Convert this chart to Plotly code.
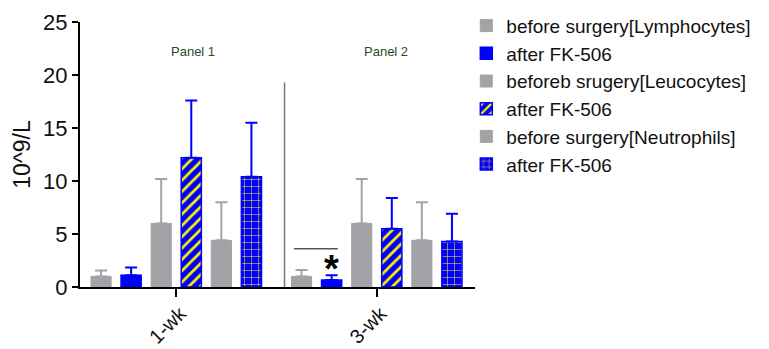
import plotly.graph_objects as go

groups = ["1-wk", "3-wk"]
series_names = ["before surgery[Lymphocytes]", "after FK-506", "beforeb srugery[Leucocytes]",
                "after FK-506", "before surgery[Neutrophils]", "after FK-506"]
lym_before = [1.0, 1.0]
lym_before_sd = [0.55, 0.6]
lym_after = [1.1, 0.65]
lym_after_sd = [0.75, 0.45]
leu_before = [6.0, 6.0]
leu_before_sd = [4.2, 4.2]
leu_after = [12.2, 5.5]
leu_after_sd = [5.4, 2.9]
neu_before = [4.4, 4.4]
neu_before_sd = [3.6, 3.6]
neu_after = [10.4, 4.3]
neu_after_sd = [5.1, 2.6]
y_ticks = [0, 5, 10, 15, 20, 25]

GRAY = "#a3a3a7"
BLUE = "#0000ff"
YEL = "#ffee00"

values = [lym_before, lym_after, leu_before, leu_after, neu_before, neu_after]
sds = [lym_before_sd, lym_after_sd, leu_before_sd, leu_after_sd, neu_before_sd, neu_after_sd]
styles = [
    dict(color=GRAY, line=dict(color=GRAY, width=1)),
    dict(color=BLUE, line=dict(color=BLUE, width=1.5)),
    dict(color=GRAY, line=dict(color=GRAY, width=1)),
    dict(color=BLUE, line=dict(color=BLUE, width=1.5),
         pattern=dict(shape="/", fgcolor=YEL, bgcolor=BLUE, size=8, solidity=0.35, fillmode="replace")),
    dict(color=GRAY, line=dict(color=GRAY, width=1)),
    dict(color=BLUE, line=dict(color=BLUE, width=1.5),
         pattern=dict(shape="+", fgcolor=YEL, bgcolor=BLUE, size=7, solidity=0.15, fillmode="replace")),
]
err_colors = [GRAY, BLUE, GRAY, BLUE, GRAY, BLUE]

fig = go.Figure()
for i in range(6):
    fig.add_trace(go.Bar(
        x=groups, y=values[i], name=series_names[i], marker=styles[i],
        legendgroup=f"g{i}",
        error_y=dict(type="data", array=sds[i], arrayminus=[0, 0], symmetric=False,
                     color=err_colors[i], thickness=2, width=6),
    ))

font_fam = "Liberation Sans, Arial, sans-serif"
fig.update_layout(
    width=769, height=349,
    margin=dict(l=72, r=302, t=14, b=70, autoexpand=False),
    plot_bgcolor="white", paper_bgcolor="white",
    barmode="group", bargap=0.1, bargroupgap=0.33,
    font=dict(family=font_fam, color="#111111"),
    legend=dict(x=0.978, xanchor="left", y=1.0575, yanchor="top", font=dict(size=19),
                tracegroupgap=0, itemwidth=30, maxheight=1.0),
    xaxis=dict(range=[-0.48, 1.49], showline=True, linecolor="black", linewidth=2,
               ticks="outside", ticklen=8, tickwidth=2, tickcolor="black",
               tickangle=-45, tickfont=dict(size=20), showgrid=False, automargin=False,
               ticklabelstandoff=-3, ticklabelshift=4),
    yaxis=dict(range=[0, 25], tickvals=y_ticks, showline=True, linecolor="black", linewidth=2,
               ticks="outside", ticklen=6, tickwidth=2, tickcolor="black",
               tickfont=dict(size=22), showgrid=False, zeroline=False, automargin=False,
               title=dict(text="10^9/L", font=dict(size=23), standoff=6)),
)

fig.add_shape(type="line", xref="x", yref="y", x0=0.54, x1=0.54, y0=0, y1=19.3,
              line=dict(color="#777777", width=1.5))
fig.add_shape(type="line", xref="x", yref="y", x0=0.587, x1=0.806, y0=3.6, y1=3.6,
              line=dict(color="black", width=1))
fig.add_annotation(x=0.776, y=2.1, xref="x", yref="y", text="<b>*</b>", showarrow=False,
                   font=dict(size=38, color="black"), yshift=-4)
fig.add_annotation(x=0.085, y=22.2, xref="x", yref="y", text="Panel 1", showarrow=False,
                   font=dict(size=13, color="#1f4d1f"))
fig.add_annotation(x=1.045, y=22.2, xref="x", yref="y", text="Panel 2", showarrow=False,
                   font=dict(size=13, color="#1f4d1f"))

fig.write_html("out.html")
